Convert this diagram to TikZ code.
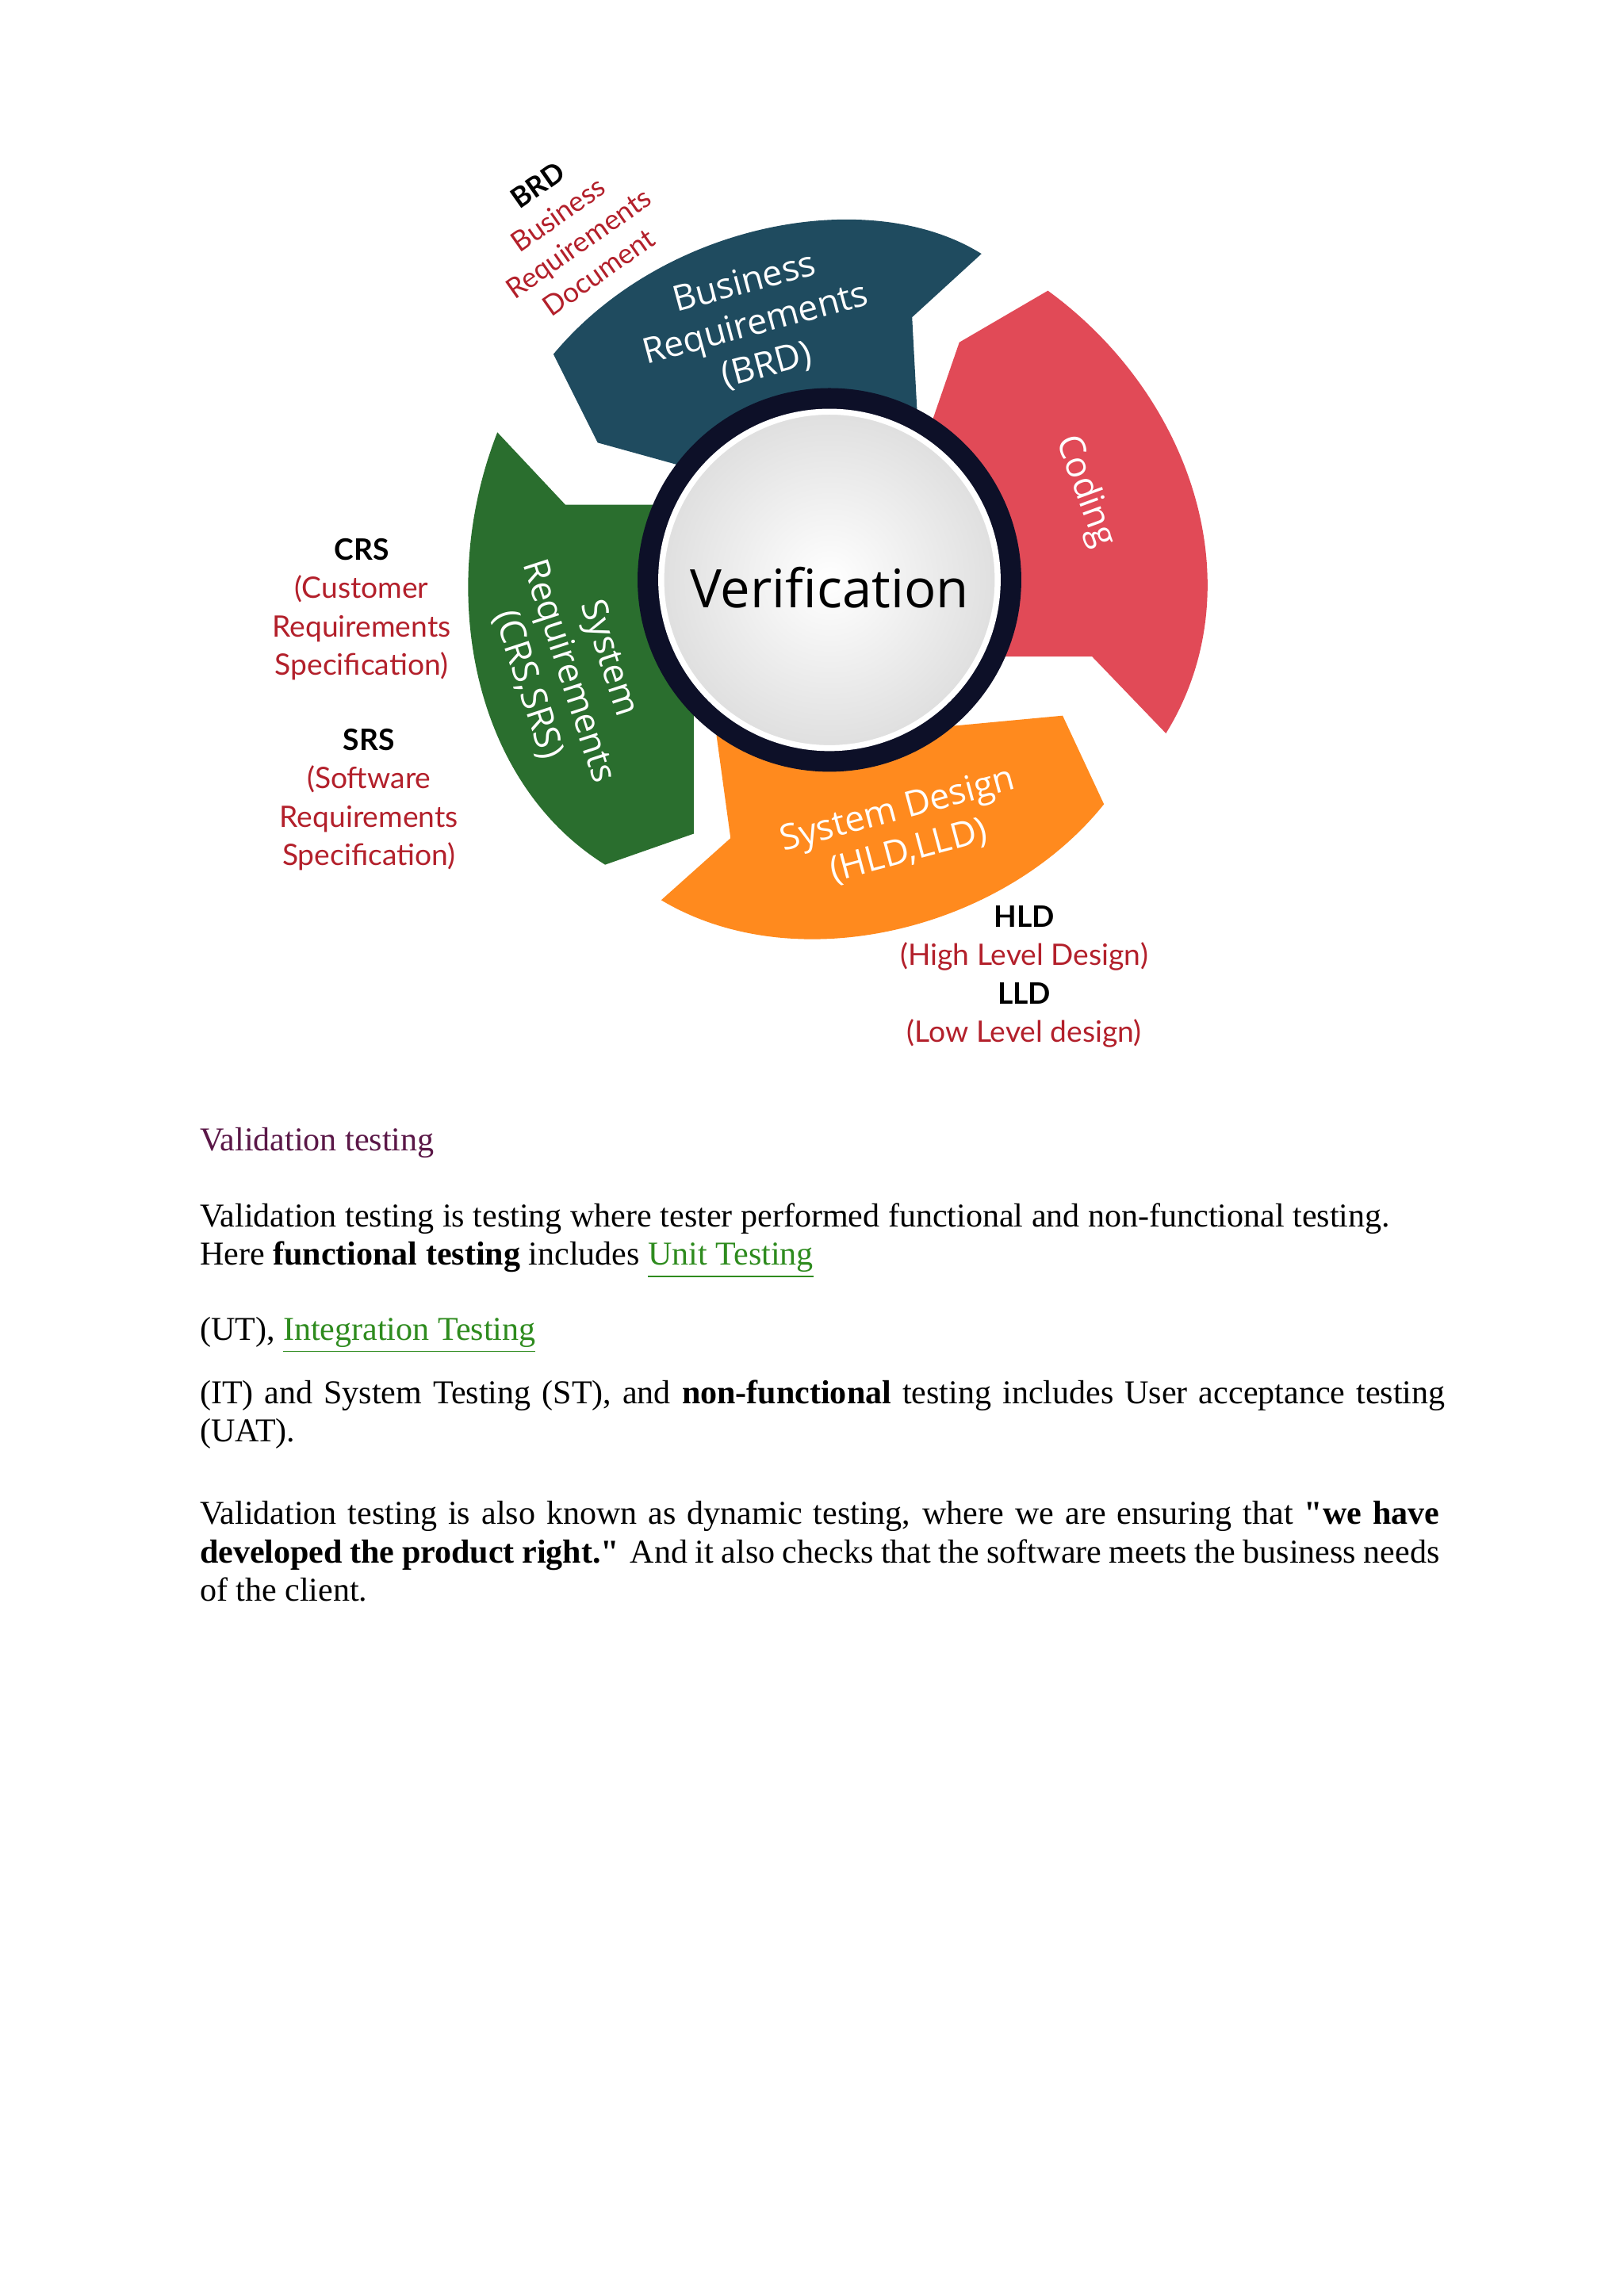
\documentclass[tikz,border=0pt]{standalone}
\usepackage{fontspec}
\setmainfont{Liberation Serif}
\newfontfamily\wheelfont{Open Sans}
\newfontfamily\labfont{Lato}
\definecolor{blueseg}{HTML}{1F4B5F}
\definecolor{redseg}{HTML}{E14A57}
\definecolor{orangeseg}{HTML}{FF8A1E}
\definecolor{greenseg}{HTML}{2A6E2E}
\definecolor{ringc}{HTML}{0D1028}
\definecolor{labred}{HTML}{B3202B}
\definecolor{headc}{HTML}{5A1747}
\definecolor{linkc}{HTML}{2E8B1E}
\newcommand{\lnk}[1]{\textcolor{linkc}{\underline{#1}}}
\newcommand{\nohy}{\hyphenpenalty=10000\relax}
\begin{document}
\begin{tikzpicture}[x=0.5pt,y=-0.5pt,
  seg/.style={draw=none},
  wtxt/.style={text=white,font=\wheelfont\fontsize{12}{14.5}\selectfont,align=center},
  lab/.style={font=\labfont\fontsize{10}{13}\selectfont,align=center},
  body/.style={anchor=north west,font=\fontsize{11.3}{13}\selectfont\nohy,inner sep=0pt}]
\useasboundingbox[fill=white] (0,0) rectangle (1100,1556);
% segments
\fill[blueseg] (375,240) .. controls (450,150) and (590,125) .. (665,172) -- (618,215) -- (622,290) -- (540,290) -- (470,318) -- (405,300) -- cycle;
\fill[redseg] (650,232) -- (710,197) .. controls (810,270) and (850,400) .. (790,497) -- (740,445) -- (640,445) -- (630,290) -- cycle;
\fill[orangeseg] (720,485) -- (748,545) .. controls (680,630) and (540,665) .. (448,610) -- (495,568) -- (485,495) -- (560,500) -- cycle;
\fill[greenseg] (337,293) -- (383,342) -- (445,342) -- (470,480) -- (470,565) -- (410,586) .. controls (320,530) and (295,400) .. (337,293) -- cycle;
% centre
\fill[ringc] (562,393) circle (130);
\shade[inner color=white,outer color=gray!25] (562,393) circle (114);
\draw[white,line width=2pt] (562,393) circle (114);
\node (ver) at (562,398) {\wheelfont\fontsize{18}{22}\selectfont Verification};
% segment texts
\node[wtxt,rotate=15] (brd) at (512,220) {Business\\Requirements\\(BRD)};
\node[wtxt,rotate=-70] (cod) at (735,333) {Coding};
\node[wtxt,rotate=-72] (srs) at (385,455) {System\\Requirements\\(CRS,SRS)};
\node[wtxt,rotate=15] (sd) at (612,563) {System Design\\(HLD,LLD)};
% side labels
\node[lab,rotate=35,font=\labfont\fontsize{9.5}{12}\selectfont] (brdl) at (385,155) {\textbf{BRD}\\\textcolor{labred}{Business}\\\textcolor{labred}{Requirements}\\\textcolor{labred}{Document}};
\node[lab] (crs) at (245,413) {\textbf{CRS}\\\textcolor{labred}{(Customer}\\\textcolor{labred}{Requirements}\\\textcolor{labred}{Specification)}};
\node[lab] (srsl) at (250,542) {\textbf{SRS}\\\textcolor{labred}{(Software}\\\textcolor{labred}{Requirements}\\\textcolor{labred}{Specification)}};
\node[lab] (hld) at (694,662) {\textbf{HLD}\\\textcolor{labred}{(High Level Design)}\\\textbf{LLD}\\\textcolor{labred}{(Low Level design)}};
% body text
\node[body] (h) at (135,764) {\textcolor{headc}{Validation testing}};
\node[body,text width=420pt,align=justify] (p1) at (135,815) {Validation testing is testing where tester performed functional and non-functional testing.\\Here \textbf{functional testing} includes \lnk{Unit Testing}};
\node[body] (p2) at (135,892) {(UT), \lnk{Integration Testing}};
\node[body,text width=425pt,align=left] (p3) at (135,935) {(IT) and System Testing (ST), and \textbf{non-functional} testing includes User acceptance testing (UAT).};
\node[body,text width=420pt,align=justify] (p4) at (135,1017) {Validation testing is also known as dynamic testing, where we are ensuring that \textbf{\textquotedbl we have developed the product right.\textquotedbl} And it also checks that the software meets the business needs of the client.};
\end{tikzpicture}
\end{document}
